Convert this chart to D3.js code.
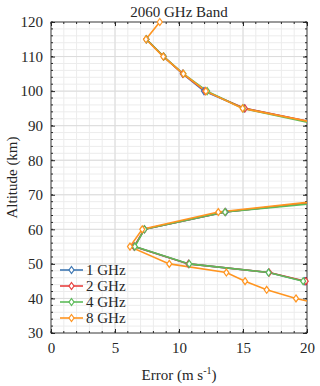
<!DOCTYPE html>
<html>
<head>
<meta charset="utf-8">
<script src="https://cdn.jsdelivr.net/npm/d3@7"></script>
<style>
  body { margin: 0; background: #fff; }
  svg text { font-family: "Liberation Serif", "Times New Roman", serif; fill: #262626; }
</style>
</head>
<body>
<div id="chartContainer"></div>
<script>
// altitude levels (km) used by every run
const altitudes = [120, 115, 110, 105, 100, 95, 90, 85, 80, 75, 70, 65, 60, 55, 50, 47.5, 45, 42.5, 40, 37.5];

// error (m/s) for each run, null where the run has no point
const err1GHz = [null, 7.45, 8.8, 10.3, 11.95, 15.1, 21.7, 27, 30, 31, 26, 13.65, 7.3, 6.5, 10.75, 17.0, 19.8, 23, 26, 28];
const err2GHz = [null, 7.45, 8.8, 10.3, 12.05, 15.15, 21.8, 27, 30, 31, 26, 13.6, 7.3, 6.5, 10.75, 17.05, 19.9, 23, 26, 28];
const err4GHz = [null, 7.45, 8.8, 10.35, 12.2, 15.0, 21.3, 27, 30, 31, 27.5, 13.6, 7.3, 6.55, 10.8, 17.0, 19.7, 23, 26, 28];
const err8GHz = [8.5, 7.42, 8.77, 10.34, 12.1, 14.97, 21.8, 27, 30, 31, 25.4, 13.07, 7.13, 6.17, 9.24, 13.7, 15.16, 16.85, 19.14, 22];

const seriesNames = ["1 GHz", "2 GHz", "4 GHz", "8 GHz"];
const seriesColors = ["#3f78b3", "#e8413f", "#5dbb5a", "#ff9520"];

const xTicks = [0, 5, 10, 15, 20];
const yTicks = [30, 40, 50, 60, 70, 80, 90, 100, 110, 120];

const chartWidth = 320;
const chartHeight = 386;
const margin = { top: 22, right: 13, bottom: 53, left: 51 };
const width = chartWidth - margin.left - margin.right;
const height = chartHeight - margin.top - margin.bottom;

const svg = d3.select("#chartContainer").append("svg")
  .attr("width", chartWidth)
  .attr("height", chartHeight);

const g = svg.append("g")
  .attr("transform", `translate(${margin.left}, ${margin.top})`);

const xScale = d3.scaleLinear().domain([0, 20]).range([0, width]);
const yScale = d3.scaleLinear().domain([30, 120]).range([height, 0]);

// minor grid
g.append("g")
  .selectAll("line")
  .data(d3.range(0, 20.01, 1))
  .enter().append("line")
  .attr("x1", d => xScale(d)).attr("x2", d => xScale(d))
  .attr("y1", 0).attr("y2", height)
  .style("stroke", "#ececec").style("stroke-width", 1);
g.append("g")
  .selectAll("line")
  .data(d3.range(30, 120.01, 2))
  .enter().append("line")
  .attr("y1", d => yScale(d)).attr("y2", d => yScale(d))
  .attr("x1", 0).attr("x2", width)
  .style("stroke", "#ececec").style("stroke-width", 1);

// major grid
g.append("g")
  .selectAll("line")
  .data(xTicks)
  .enter().append("line")
  .attr("x1", d => xScale(d)).attr("x2", d => xScale(d))
  .attr("y1", 0).attr("y2", height)
  .style("stroke", "#dcdcdc").style("stroke-width", 1);
g.append("g")
  .selectAll("line")
  .data(yTicks)
  .enter().append("line")
  .attr("y1", d => yScale(d)).attr("y2", d => yScale(d))
  .attr("x1", 0).attr("x2", width)
  .style("stroke", "#dcdcdc").style("stroke-width", 1);

// axes (inward ticks, box all round)
function styleAxis(sel) {
  sel.select(".domain").remove();
  sel.selectAll("line").style("stroke", "#262626");
  sel.selectAll("text").style("font-size", "15px");
}
g.append("g")
  .attr("transform", `translate(0, ${height})`)
  .call(d3.axisBottom(xScale).tickValues(xTicks).tickSize(-4).tickPadding(9))
  .call(styleAxis);
g.append("g")
  .call(d3.axisTop(xScale).tickValues(xTicks).tickSize(-4).tickFormat(""))
  .call(styleAxis);
g.append("g")
  .call(d3.axisLeft(yScale).tickValues(yTicks).tickSize(-4).tickPadding(8))
  .call(styleAxis);
g.append("g")
  .attr("transform", `translate(${width}, 0)`)
  .call(d3.axisRight(yScale).tickValues(yTicks).tickSize(-4).tickFormat(""))
  .call(styleAxis);

// minor ticks
const minorX = d3.range(0, 20.01, 1);
const minorY = d3.range(30, 120.01, 2);
[0, height].forEach(y0 => {
  g.append("g").selectAll("line").data(minorX).enter().append("line")
    .attr("x1", d => xScale(d)).attr("x2", d => xScale(d))
    .attr("y1", y0).attr("y2", y0 === 0 ? 2 : height - 2)
    .style("stroke", "#262626");
});
[0, width].forEach(x0 => {
  g.append("g").selectAll("line").data(minorY).enter().append("line")
    .attr("y1", d => yScale(d)).attr("y2", d => yScale(d))
    .attr("x1", x0).attr("x2", x0 === 0 ? 2 : width - 2)
    .style("stroke", "#262626");
});

g.append("rect")
  .attr("width", width).attr("height", height)
  .style("fill", "none").style("stroke", "#262626").style("stroke-width", 0.8);

// clip the lines to the plot box; markers are drawn whole when the point is in range
svg.append("defs").append("clipPath").attr("id", "plotClip")
  .append("rect").attr("width", width).attr("height", height);

const plot = g.append("g").attr("clip-path", "url(#plotClip)");
const markers = g.append("g");

const allSeries = [err1GHz, err2GHz, err4GHz, err8GHz].map((vals, i) => ({
  name: seriesNames[i],
  color: seriesColors[i],
  points: vals.map((v, j) => ({ err: v, alt: altitudes[j] })).filter(p => p.err !== null)
}));

const line = d3.line().x(d => xScale(d.err)).y(d => yScale(d.alt));
const diamond = "M0,-3.5L2.5,0L0,3.5L-2.5,0Z";

allSeries.forEach(s => {
  const grp = plot.append("g");
  grp.append("path")
    .datum(s.points)
    .attr("d", line)
    .style("fill", "none")
    .style("stroke", s.color)
    .style("stroke-width", 1.6);
  markers.append("g").selectAll("path")
    .data(s.points.filter(p => p.err <= 20 && p.alt >= 30 && p.alt <= 120))
    .enter().append("path")
    .attr("d", diamond)
    .attr("transform", d => `translate(${xScale(d.err)}, ${yScale(d.alt)})`)
    .style("fill", "#fff")
    .style("stroke", s.color)
    .style("stroke-width", 1.2);
});

// legend
const legend = g.append("g").attr("transform", "translate(9, 248)");
allSeries.forEach((s, i) => {
  const row = legend.append("g").attr("transform", `translate(0, ${i * 16})`);
  row.append("line").attr("x1", 0).attr("x2", 23)
    .style("stroke", s.color).style("stroke-width", 1.6);
  row.append("path").attr("d", diamond).attr("transform", "translate(11.5, 0)")
    .style("fill", "#fff").style("stroke", s.color).style("stroke-width", 1.2);
  row.append("text").attr("x", 26).attr("y", 5)
    .style("font-size", "15px").text(s.name);
});

// title and axis labels
svg.append("text")
  .attr("x", margin.left + width / 2).attr("y", 17)
  .attr("text-anchor", "middle")
  .style("font-size", "15px")
  .text("2060 GHz Band");

const xLabel = svg.append("text")
  .attr("x", margin.left + width / 2).attr("y", 380)
  .attr("text-anchor", "middle")
  .style("font-size", "15px");
xLabel.append("tspan").text("Error (m s");
xLabel.append("tspan").attr("dy", -6).style("font-size", "10px").text("-1");
xLabel.append("tspan").attr("dy", 6).text(")");

svg.append("text")
  .attr("transform", `translate(17, ${margin.top + height / 2}) rotate(-90)`)
  .attr("text-anchor", "middle")
  .style("font-size", "15px")
  .text("Altitude (km)");
</script>
</body>
</html>
